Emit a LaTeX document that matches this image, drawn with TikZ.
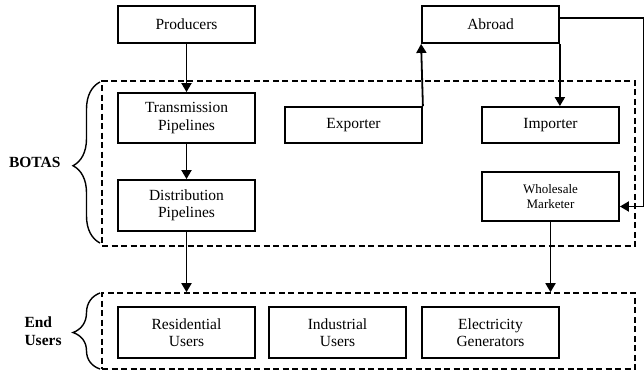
\documentclass[tikz,border=0pt]{standalone}
\usepackage{fontspec}
\setmainfont{Liberation Serif}
\usepackage{tikz}
\usetikzlibrary{decorations.pathreplacing,shapes,arrows.meta,positioning}

\begin{document}
\begin{tikzpicture}[x=1pt, y=-1pt,
		box/.style={draw, line width=1.8pt, minimum width=137pt, align=center, inner sep=0pt, font=\fontsize{15.5}{17.5}\selectfont},
		group/.style={draw, line width=1.6pt, dash pattern=on 6pt off 3.5pt, minimum width=533pt, inner sep=0pt},
		flow/.style={line width=1.8pt, -{Triangle[width=10pt,length=9pt]}},
		curly/.style={line width=1.4pt, decorate, decoration={brace, amplitude=27pt, aspect=0.48}},
		label/.style={font=\fontsize{15.5}{17.5}\selectfont\bfseries, align=left}]
			\useasboundingbox (0,0) rectangle (644,372);
			\node[group, minimum height=165pt] (botas) at (368.5,163.5) {};
			\node[group, minimum height=76pt] (users) at (368.5,331) {};
			
			\node[box, minimum height=37pt] (prod) at (186.5,24.5) {Producers};
			\node[box, minimum height=37pt] (abroad) at (490.5,24.5) {Abroad};
			\node[box, minimum height=50pt] (trans) at (186.5,118) {Transmission\\Pipelines};
			\node[box, minimum height=36pt] (exp) at (353.5,125) {Exporter};
			\node[box, minimum height=36pt] (imp) at (550.5,125) {Importer};
			\node[box, minimum height=51pt] (dist) at (186.5,205.5) {Distribution\\Pipelines};
			\node[box, minimum height=49pt, font=\fontsize{13}{15}\selectfont] (whole) at (550.5,196.5) {Wholesale\\Marketer};
			\node[box, minimum height=51pt] (res) at (186.5,332.5) {Residential\\Users};
			\node[box, minimum height=51pt] (ind) at (337.5,332.5) {Industrial\\Users};
			\node[box, minimum height=51pt] (gen) at (490.5,332.5) {Electricity\\Generators};
			
			\draw[flow] (prod) -- (trans);
			\draw[flow] (trans) -- (dist);
			\draw[flow] (exp.north east) -- (abroad.south west);
			\draw[flow] (abroad.south east) -- (abroad.south east |- imp.north);
			\draw[flow] ([yshift=6.5pt]abroad.east) -- ++(84,0) |- ([yshift=-10pt]whole.east);
			\draw[flow] (dist) -- (dist |- users.north);
			\draw[flow] (whole.south) -- (whole.south |- users.north);
			
			\draw[curly] (100,243) -- (100,82);
			\draw[curly] (100,369) -- (100,293);
			\node[label, anchor=east] (botastext) at (64,162) {BOTAS};
			\node[label, anchor=west] (userstext) at (21,331) {End\\Users};
		\end{tikzpicture}
\end{document}
